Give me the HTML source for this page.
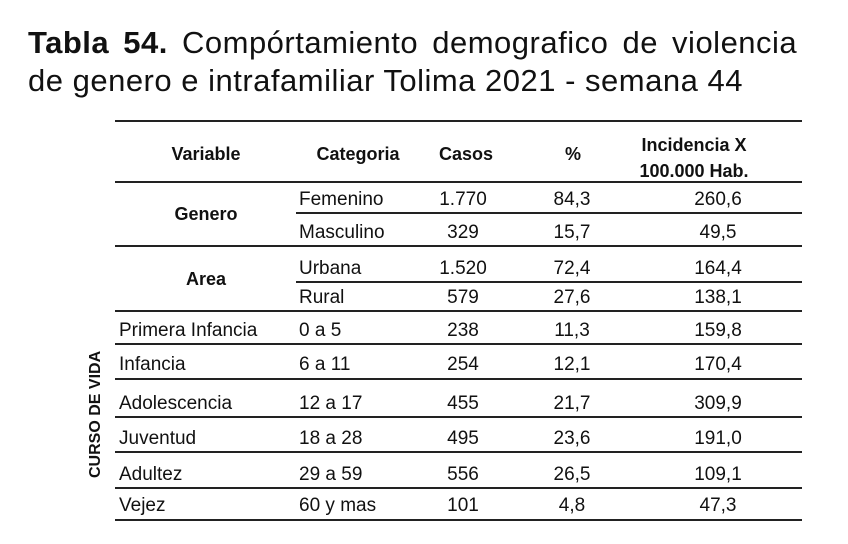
<!DOCTYPE html>
<html><head><meta charset="utf-8"><style>
body{margin:0;width:848px;height:544px;background:#fff;font-family:"Liberation Sans",sans-serif;color:#111;position:relative;overflow:hidden}
.t{position:absolute;white-space:nowrap}
.ln{position:absolute;background:#222;height:2px}
.c{position:absolute;font-size:19px;transform:translateX(-50%);white-space:nowrap}
.l{position:absolute;font-size:19px;white-space:nowrap}
.b{font-weight:bold;font-size:18px}
</style></head><body>
<div class="t" style="left:28px;top:25px;font-size:31px;letter-spacing:0.5px;word-spacing:5px"><b>Tabla 54.</b> Compórtamiento demografico de violencia</div>
<div class="t" style="left:28px;top:63px;font-size:31px;letter-spacing:0.5px">de genero e intrafamiliar Tolima 2021 - semana 44</div>

<div class="ln" style="left:115px;width:687px;top:120px"></div>
<div class="ln" style="left:115px;width:687px;top:181px"></div>
<div class="ln" style="left:296px;width:506px;top:212px"></div>
<div class="ln" style="left:115px;width:687px;top:245px"></div>
<div class="ln" style="left:296px;width:506px;top:281px"></div>
<div class="ln" style="left:115px;width:687px;top:310px"></div>
<div class="ln" style="left:115px;width:687px;top:343px"></div>
<div class="ln" style="left:115px;width:687px;top:378px"></div>
<div class="ln" style="left:115px;width:687px;top:416px"></div>
<div class="ln" style="left:115px;width:687px;top:451px"></div>
<div class="ln" style="left:115px;width:687px;top:487px"></div>
<div class="ln" style="left:115px;width:687px;top:519px"></div>

<div class="c b" style="left:206px;top:144px">Variable</div>
<div class="c b" style="left:358px;top:144px">Categoria</div>
<div class="c b" style="left:466px;top:144px">Casos</div>
<div class="c b" style="left:573px;top:144px">%</div>
<div class="c b" style="left:694px;top:132px;text-align:center;line-height:26px">Incidencia X<br>100.000 Hab.</div>

<div class="c b" style="left:206px;top:204px">Genero</div>
<div class="c b" style="left:206px;top:269px">Area</div>

<div class="t b" style="left:87px;top:478px;transform-origin:0 0;transform:rotate(-90deg);font-size:16px">CURSO DE VIDA</div>

<div class="l" style="left:299px;top:189px">Femenino</div><div class="c" style="left:463px;top:189px">1.770</div><div class="c" style="left:572px;top:189px">84,3</div><div class="c" style="left:718px;top:189px">260,6</div>
<div class="l" style="left:299px;top:222px">Masculino</div><div class="c" style="left:463px;top:222px">329</div><div class="c" style="left:572px;top:222px">15,7</div><div class="c" style="left:718px;top:222px">49,5</div>
<div class="l" style="left:299px;top:258px">Urbana</div><div class="c" style="left:463px;top:258px">1.520</div><div class="c" style="left:572px;top:258px">72,4</div><div class="c" style="left:718px;top:258px">164,4</div>
<div class="l" style="left:299px;top:287px">Rural</div><div class="c" style="left:463px;top:287px">579</div><div class="c" style="left:572px;top:287px">27,6</div><div class="c" style="left:718px;top:287px">138,1</div>

<div class="l" style="left:119px;top:320px">Primera Infancia</div><div class="l" style="left:299px;top:320px">0 a 5</div><div class="c" style="left:463px;top:320px">238</div><div class="c" style="left:572px;top:320px">11,3</div><div class="c" style="left:718px;top:320px">159,8</div>
<div class="l" style="left:119px;top:354px">Infancia</div><div class="l" style="left:299px;top:354px">6 a 11</div><div class="c" style="left:463px;top:354px">254</div><div class="c" style="left:572px;top:354px">12,1</div><div class="c" style="left:718px;top:354px">170,4</div>
<div class="l" style="left:119px;top:393px">Adolescencia</div><div class="l" style="left:299px;top:393px">12 a 17</div><div class="c" style="left:463px;top:393px">455</div><div class="c" style="left:572px;top:393px">21,7</div><div class="c" style="left:718px;top:393px">309,9</div>
<div class="l" style="left:119px;top:428px">Juventud</div><div class="l" style="left:299px;top:428px">18 a 28</div><div class="c" style="left:463px;top:428px">495</div><div class="c" style="left:572px;top:428px">23,6</div><div class="c" style="left:718px;top:428px">191,0</div>
<div class="l" style="left:119px;top:464px">Adultez</div><div class="l" style="left:299px;top:464px">29 a 59</div><div class="c" style="left:463px;top:464px">556</div><div class="c" style="left:572px;top:464px">26,5</div><div class="c" style="left:718px;top:464px">109,1</div>
<div class="l" style="left:119px;top:495px">Vejez</div><div class="l" style="left:299px;top:495px">60 y mas</div><div class="c" style="left:463px;top:495px">101</div><div class="c" style="left:572px;top:495px">4,8</div><div class="c" style="left:718px;top:495px">47,3</div>
</body></html>
